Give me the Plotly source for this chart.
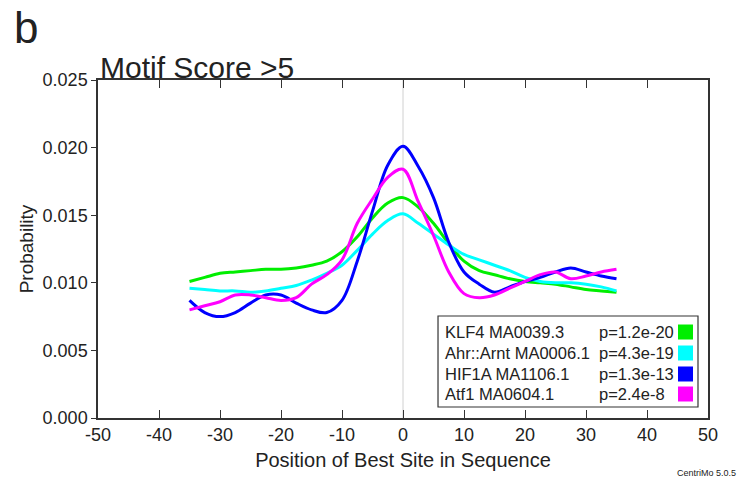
import plotly.graph_objects as go

# ---- data ----
positions = [-35, -32.5, -30, -27.5, -25, -22.5, -20, -17.5, -15, -12.5, -10, -7.5, -5, -2.5,
             0, 2.5, 5, 7.5, 10, 12.5, 15, 17.5, 20, 22.5, 25, 27.5, 30, 32.5, 35]

klf4 = [0.0101, 0.0104, 0.0107, 0.0108, 0.0109, 0.0110, 0.0110, 0.0111, 0.0113, 0.0116, 0.0123,
        0.0134, 0.0148, 0.0159, 0.0163, 0.0156, 0.0144, 0.0129, 0.0116, 0.0109, 0.0106, 0.0103,
        0.0101, 0.0100, 0.0099, 0.0097, 0.0095, 0.0094, 0.0093]

ahr_arnt = [0.0096, 0.0095, 0.0094, 0.0094, 0.0093, 0.0094, 0.0096, 0.0098, 0.0102, 0.0107, 0.0113,
            0.0124, 0.0136, 0.0146, 0.0151, 0.0144, 0.0136, 0.0128, 0.0121, 0.0117, 0.0113, 0.0109,
            0.0104, 0.0101, 0.0100, 0.0100, 0.0099, 0.0097, 0.0094]

hif1a = [0.0087, 0.0078, 0.0075, 0.0078, 0.0085, 0.0091, 0.0091, 0.0085, 0.0080, 0.0078, 0.0087,
         0.0116, 0.0153, 0.0187, 0.0201, 0.0186, 0.0163, 0.0130, 0.0108, 0.0099, 0.0093, 0.0097,
         0.0101, 0.0104, 0.0108, 0.0111, 0.0108, 0.0105, 0.0103]

atf1 = [0.0080, 0.0083, 0.0086, 0.0091, 0.0091, 0.0089, 0.0087, 0.0089, 0.0099, 0.0106, 0.0117,
        0.0144, 0.0162, 0.0178, 0.0184, 0.0160, 0.0135, 0.0108, 0.0092, 0.0089, 0.0091, 0.0096,
        0.0101, 0.0106, 0.0108, 0.0103, 0.0105, 0.0108, 0.0110]

series_values = [klf4, ahr_arnt, hif1a, atf1]
motif_names = ["KLF4 MA0039.3", "Ahr::Arnt MA0006.1", "HIF1A MA1106.1", "Atf1 MA0604.1"]
p_values = ["p=1.2e-20", "p=4.3e-19", "p=1.3e-13", "p=2.4e-8"]
colors = ["#00ee00", "#00ffff", "#0000ff", "#ff00ff"]

x_ticks = [-50, -40, -30, -20, -10, 0, 10, 20, 30, 40, 50]
y_ticks = [0.000, 0.005, 0.010, 0.015, 0.020, 0.025]

FONT = "Liberation Sans, Arial, Helvetica, sans-serif"

fig = go.Figure()
for vals, name, col in zip(series_values, motif_names, colors):
    fig.add_trace(go.Scatter(x=positions, y=vals, mode="lines", name=name,
                             line=dict(color=col, width=3, shape="spline", smoothing=1.0)))

# vertical centre line
fig.add_shape(type="line", xref="x", yref="y", x0=0, x1=0, y0=0, y1=0.025,
              line=dict(color="#d0d0d0", width=1), layer="below")

# custom legend box
fig.add_shape(type="rect", xref="paper", yref="paper", x0=0.5574, x1=0.9836, y0=0.0325, y1=0.3018,
              line=dict(color="#333333", width=1.2), fillcolor="white", layer="above")
row_y = [0.2544, 0.1923, 0.1302, 0.0710]
for ry, name, pv, col in zip(row_y, motif_names, p_values, colors):
    fig.add_annotation(xref="paper", yref="paper", x=0.5656, y=ry, text=name, showarrow=False,
                       xanchor="left", yanchor="middle", font=dict(family=FONT, size=16.5, color="#222"))
    fig.add_annotation(xref="paper", yref="paper", x=0.818, y=ry, text=pv, showarrow=False,
                       xanchor="left", yanchor="middle", font=dict(family=FONT, size=16.5, color="#222"))
    fig.add_shape(type="rect", xref="paper", yref="paper", x0=0.9508, x1=0.9754,
                  y0=ry - 0.0222, y1=ry + 0.0222, fillcolor=col, line=dict(width=0), layer="above")

# title, panel letter, footer
fig.add_annotation(xref="paper", yref="paper", x=0, y=1, text="Motif Score >5", showarrow=False,
                   xanchor="left", yanchor="bottom", yshift=-6,
                   font=dict(family=FONT, size=30, color="#222"))
fig.add_annotation(xref="paper", yref="paper", x=-0.141, y=1.154, text="b", showarrow=False,
                   xanchor="left", yanchor="middle", font=dict(family=FONT, size=44, color="#222"))
fig.add_annotation(xref="paper", yref="paper", x=1.049, y=-0.163, text="CentriMo 5.0.5", showarrow=False,
                   xanchor="right", yanchor="middle", font=dict(family=FONT, size=9, color="#222"))

fig.update_layout(
    width=739, height=474,
    margin=dict(l=90, r=39, t=72, b=64),
    paper_bgcolor="white", plot_bgcolor="white",
    showlegend=False,
    font=dict(family=FONT, color="#222"),
)
fig.update_xaxes(range=[-50, 50], tickvals=x_ticks, ticktext=[str(v) for v in x_ticks],
                 ticks="inside", ticklen=8, tickcolor="#333", tickwidth=1.2,
                 showline=True, linecolor="#333", linewidth=1.5, mirror="ticks",
                 showgrid=False, zeroline=False,
                 tickfont=dict(family=FONT, size=18),
                 title=dict(text="Position of Best Site in Sequence", font=dict(family=FONT, size=20), standoff=9))
fig.update_yaxes(range=[0, 0.025], tickvals=y_ticks, ticktext=[f"{v:.3f}" for v in y_ticks],
                 ticks="outside", ticklen=5, tickcolor="#333", tickwidth=1.2,
                 showline=True, linecolor="#333", linewidth=1.5, mirror=True,
                 showgrid=False, zeroline=False,
                 tickfont=dict(family=FONT, size=18),
                 title=dict(text="Probability", font=dict(family=FONT, size=19), standoff=4))

fig.write_html("out.html")
